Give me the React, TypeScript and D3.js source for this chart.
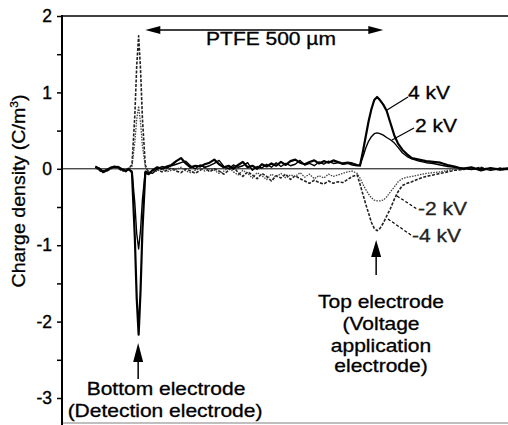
import React, { useEffect, useRef } from "react";
import * as d3 from "d3";

// position through the PTFE sample in µm (bottom electrode at 0)
const positions = [
  -90, -82, -74, -66, -58, -50, -42, -34, -26, -20, -13, -7, -3, 1, 5, 9, 15, 22,
  30, 40, 50, 60, 70, 80, 90, 100, 110, 120, 130, 140, 150, 160, 170, 180, 190, 200,
  210, 220, 230, 240, 250, 260, 270, 280, 290, 300, 310, 320, 330, 340, 350, 360,
  370, 380, 390, 400, 410, 420, 430, 440, 450,
  460, 466, 472, 478, 484, 490, 496, 502, 508, 515, 522, 530, 538, 546, 555, 565,
  575, 590, 605, 620, 635, 650, 665, 680, 700, 720, 740, 760, 777,
];

// charge density (C/m^3) for each applied voltage
const kv4 = [
  0.03, 0.0, -0.04, -0.02, 0.01, 0.03, 0.02, -0.01, -0.03, 0.0, -0.05, -0.9, -1.7, -2.17, -1.6, -0.8, -0.05, -0.07,
  -0.02, 0.02, 0.0, 0.03, 0.05, 0.1, 0.14, 0.07, 0.02, 0.04, 0.03, 0.06, 0.08, 0.12, 0.06, 0.02, 0.04, 0.0,
  0.05, 0.09, 0.02, 0.04, 0.0, 0.06, 0.03, 0.07, 0.04, 0.09, 0.05, 0.1, 0.12, 0.08, 0.06, 0.09,
  0.11, 0.07, 0.1, 0.08, 0.11, 0.09, 0.07, 0.08, 0.07,
  0.05, 0.04, 0.22, 0.42, 0.62, 0.78, 0.9, 0.94, 0.9, 0.84, 0.76, 0.6, 0.44, 0.33, 0.25, 0.19,
  0.14, 0.12, 0.1, 0.09, 0.08, 0.05, 0.03, 0.0, 0.02, -0.02, 0.01, -0.01, 0.0,
];
const kv2 = [
  0.02, 0.01, -0.03, -0.01, 0.02, 0.02, 0.03, 0.0, -0.02, -0.01, -0.03, -0.45, -0.85, -1.05, -0.8, -0.4, -0.03, -0.05,
  -0.06, 0.0, 0.03, 0.01, 0.04, 0.06, 0.08, 0.1, 0.04, 0.0, 0.05, 0.02, 0.04, 0.07, 0.11, 0.03, 0.0, 0.05,
  0.02, 0.04, 0.08, -0.02, 0.03, 0.01, 0.06, 0.02, 0.08, 0.03, 0.07, 0.04, 0.06, 0.11, 0.05, 0.07,
  0.04, 0.09, 0.06, 0.1, 0.07, 0.08, 0.06, 0.07, 0.05,
  0.04, 0.05, 0.15, 0.27, 0.36, 0.42, 0.46, 0.47, 0.46, 0.44, 0.41, 0.38, 0.34, 0.28, 0.21, 0.16,
  0.13, 0.1, 0.08, 0.07, 0.05, 0.03, 0.02, 0.01, -0.01, 0.01, -0.02, 0.0, 0.01,
];
const kvNeg2 = [
  0.01, -0.01, -0.02, -0.03, 0.0, 0.02, 0.01, -0.02, -0.04, 0.0, 0.03, 0.35, 0.65, 0.82, 0.6, 0.3, 0.03, -0.03,
  -0.05, -0.03, 0.0, -0.04, -0.02, -0.01, 0.02, -0.03, -0.05, -0.02, 0.01, -0.03, 0.0, -0.02, -0.06, -0.03, 0.02, -0.04,
  -0.08, -0.02, -0.06, -0.12, -0.05, -0.09, -0.14, -0.07, -0.11, -0.06, -0.12, -0.08, -0.1, -0.05, -0.11, -0.07,
  -0.13, -0.09, -0.12, -0.07, -0.1, -0.08, -0.06, -0.04, -0.03,
  -0.06, -0.12, -0.2, -0.27, -0.33, -0.38, -0.41, -0.42, -0.42, -0.41, -0.37, -0.3, -0.24, -0.17, -0.13, -0.11,
  -0.1, -0.08, -0.06, -0.05, -0.04, -0.02, -0.01, 0.0, 0.01, -0.02, 0.01, -0.02, 0.0,
];
const kvNeg4 = [
  0.02, -0.02, -0.05, -0.03, 0.0, 0.03, 0.01, -0.03, -0.02, 0.01, 0.05, 0.7, 1.35, 1.74, 1.3, 0.65, 0.05, -0.06,
  -0.02, -0.01, -0.04, -0.02, 0.01, -0.03, -0.05, 0.0, -0.03, -0.06, -0.02, 0.02, -0.04, 0.0, -0.03, -0.07, -0.02, 0.03,
  -0.05, -0.1, -0.04, -0.08, -0.13, -0.06, -0.1, -0.16, -0.09, -0.12, -0.07, -0.14, -0.09, -0.13, -0.16, -0.19,
  -0.15, -0.18, -0.2, -0.16, -0.19, -0.17, -0.18, -0.14, -0.1,
  -0.08, -0.2, -0.33, -0.46, -0.58, -0.7, -0.78, -0.81, -0.78, -0.71, -0.62, -0.52, -0.4, -0.3, -0.22, -0.19,
  -0.17, -0.13, -0.1, -0.08, -0.06, -0.04, -0.02, -0.01, 0.0, 0.02, -0.01, 0.01, -0.01,
];

const seriesNames = ["-4 kV", "-2 kV", "2 kV", "4 kV"];
const yTicks = [-3, -2.5, -2, -1.5, -1, -0.5, 0, 0.5, 1, 1.5, 2];

const FONT = "'Liberation Sans', Arial, Helvetica, sans-serif";

export default function App() {
  const ref = useRef<SVGSVGElement>(null);

  useEffect(() => {
    const svg = d3.select(ref.current);
    svg.selectAll("*").remove();

    const x = d3.scaleLinear().domain([-160, 777]).range([62, 508]);
    const y = d3.scaleLinear().domain([-3, 2]).range([398, 16]);

    // frame bits
    svg.append("line").attr("x1", 62).attr("x2", 508).attr("y1", y(2)).attr("y2", y(2))
      .attr("stroke", "#000").attr("stroke-width", 1.5);
    svg.append("line").attr("x1", 62).attr("x2", 508).attr("y1", 423).attr("y2", 423)
      .attr("stroke", "#aaa").attr("stroke-width", 1.5);
    svg.append("line").attr("x1", 62).attr("x2", 508).attr("y1", y(0)).attr("y2", y(0))
      .attr("stroke", "#000").attr("stroke-width", 1);

    // y axis
    const axis = svg.append("g").attr("transform", "translate(62,0)")
      .call(d3.axisLeft(y).tickValues(yTicks).tickSize(5).tickSizeOuter(0).tickPadding(5)
        .tickFormat((d: any) => (Number.isInteger(d) ? String(d) : "")));
    axis.select(".domain").remove();
    axis.selectAll("line").attr("stroke-width", 1.5);
    axis.selectAll("text").attr("font-family", FONT).attr("font-size", 17.5).attr("fill", "#000")
      .attr("stroke", "#000").attr("stroke-width", 0.35);
    svg.append("line").attr("x1", 62).attr("x2", 62).attr("y1", 15).attr("y2", 425)
      .attr("stroke", "#000").attr("stroke-width", 2);

    const ylab = svg.append("text")
      .attr("transform", "translate(25,191) rotate(-90) scale(1.09,1)")
      .attr("text-anchor", "middle").attr("font-family", FONT).attr("font-size", 18)
      .attr("stroke", "#000").attr("stroke-width", 0.3);
    ylab.append("tspan").text("Charge density (C/m");
    ylab.append("tspan").attr("font-size", 11).attr("dy", -7).text("3");
    ylab.append("tspan").attr("dy", 7).text(")");

    // curves
    const styles = [
      { color: "#222", width: 1.6, dash: "3 1.5" },
      { color: "#444", width: 1.3, dash: "1.5 1.2" },
      { color: "#000", width: 1.4, dash: null },
      { color: "#000", width: 2.2, dash: null },
    ];
    const allSeries = [kvNeg4, kvNeg2, kv2, kv4];
    const line = d3.line<number>()
      .x((_, i) => x(positions[i]))
      .y((d) => y(d));
    allSeries.forEach((vals, i) => {
      svg.append("path").datum(vals)
        .attr("d", line as any)
        .attr("fill", "none")
        .attr("stroke", styles[i].color)
        .attr("stroke-width", styles[i].width)
        .attr("stroke-dasharray", styles[i].dash)
        .attr("stroke-linejoin", "round");
    });

    const text = (s: string, tx: number, ty: number, anchor = "start", fill = "#000") =>
      svg.append("text")
        .attr("transform", `translate(${tx},${ty}) scale(1.2,1)`)
        .attr("text-anchor", anchor).attr("font-family", FONT).attr("font-size", 17.5)
        .attr("fill", fill).attr("stroke", fill).attr("stroke-width", 0.3).text(s);

    // series labels with leaders
    const leaders = [
      { x1: 388, y1: 219, x2: 411, y2: 235, tx: 412, ty: 242, dash: "3 2" },
      { x1: 397, y1: 196, x2: 417, y2: 209, tx: 418, ty: 215, dash: "3 2" },
      { x1: 392, y1: 140, x2: 414, y2: 128, tx: 415, ty: 132, dash: null },
      { x1: 387, y1: 110, x2: 408, y2: 97, tx: 408, ty: 99, dash: null },
    ];
    leaders.forEach((l, i) => {
      svg.append("line").attr("x1", l.x1).attr("y1", l.y1).attr("x2", l.x2).attr("y2", l.y2)
        .attr("stroke", "#000").attr("stroke-width", 1.2).attr("stroke-dasharray", l.dash);
      text(seriesNames[i], l.tx, l.ty, "start", i < 2 ? "#222" : "#000");
    });

    // PTFE thickness arrow
    const ax1 = x(15), ax2 = x(515), ay = 30;
    svg.append("line").attr("x1", ax1 + 8).attr("x2", ax2 - 8).attr("y1", ay).attr("y2", ay)
      .attr("stroke", "#000").attr("stroke-width", 1.5);
    svg.append("path").attr("d", `M${ax1},${ay}L${ax1 + 15},${ay - 4}L${ax1 + 15},${ay + 4}Z`);
    svg.append("path").attr("d", `M${ax2},${ay}L${ax2 - 15},${ay - 4}L${ax2 - 15},${ay + 4}Z`);
    text("PTFE 500 \u00b5m", 271, 45, "middle");

    // electrode arrows
    const upArrow = (cx: number, tip: number, base: number, tail: number) => {
      svg.append("line").attr("x1", cx).attr("x2", cx).attr("y1", base - 2).attr("y2", tail)
        .attr("stroke", "#000").attr("stroke-width", 1.5);
      svg.append("path").attr("d", `M${cx},${tip}L${cx - 5},${base}L${cx + 5},${base}Z`);
    };
    upArrow(x(0), 343, 362, 379);
    upArrow(x(500), 240, 257, 275);

    text("Bottom electrode", 166, 395, "middle");
    text("(Detection electrode)", 165, 417, "middle");
    text("Top electrode", 381, 308, "middle");
    text("(Voltage", 381, 330, "middle");
    text("application", 381, 352, "middle");
    text("electrode)", 381, 372, "middle");
  }, []);

  return (
    <svg ref={ref} width={508} height={425}
      style={{ position: "absolute", left: 0, top: 0, background: "#fff" }} />
  );
}
